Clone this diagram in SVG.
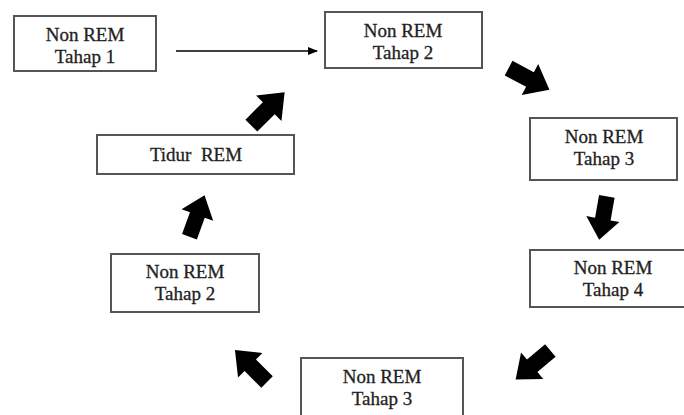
<svg xmlns="http://www.w3.org/2000/svg" width="684" height="415" viewBox="0 0 684 415">
<style>
.box{fill:#fff;stroke:#555;stroke-width:2}
.t{font-family:"Liberation Serif","Times New Roman",serif;font-size:19px;fill:#222;stroke:#222;stroke-width:0.3;text-anchor:middle}
.blk{fill:#000}
</style>
<defs>
<marker id="ah" markerWidth="10" markerHeight="8" refX="9" refY="4" orient="auto" markerUnits="userSpaceOnUse">
<path d="M0,0 L10,4 L0,8 Z" fill="#000"/>
</marker>
<path id="big" d="M-21,-7.5 L1,-7.5 L1,-16 L21,0 L1,16 L1,7.5 L-21,7.5 Z"/>
</defs>
<g id="connectors">
<line x1="176" y1="51" x2="317" y2="51" stroke="#000" stroke-width="1.3" marker-end="url(#ah)"/>
<use href="#big" class="blk" transform="translate(268,109) rotate(-45) scale(1.12)"/>
<use href="#big" class="blk" transform="translate(529,79) rotate(28) scale(1.1)"/>
<use href="#big" class="blk" transform="translate(603,218) rotate(100) scale(1.05)"/>
<use href="#big" class="blk" transform="translate(533,365) rotate(140) scale(1.08)"/>
<use href="#big" class="blk" transform="translate(251,366) rotate(-135) scale(1.08)"/>
<use href="#big" class="blk" transform="translate(197,216) rotate(-70) scale(1.05)"/>
</g>
<g id="n1"><rect class="box" x="14" y="16" width="142" height="55"/><text class="t" x="85" y="40.5">Non REM</text><text class="t" x="85" y="62.5">Tahap 1</text></g>
<g id="n2"><rect class="box" x="325" y="12" width="157" height="56"/><text class="t" x="403" y="36.5">Non REM</text><text class="t" x="403" y="58.5">Tahap 2</text></g>
<g id="n3"><rect class="box" x="530" y="118" width="147" height="62"/><text class="t" x="604" y="142.5">Non REM</text><text class="t" x="604" y="164.5">Tahap 3</text></g>
<g id="n4"><rect class="box" x="530" y="250" width="168" height="57"/><text class="t" x="613" y="273.5">Non REM</text><text class="t" x="613" y="295.5">Tahap 4</text></g>
<g id="n5"><rect class="box" x="301" y="358" width="162" height="70"/><text class="t" x="382" y="382.5">Non REM</text><text class="t" x="382" y="404.5">Tahap 3</text></g>
<g id="n6"><rect class="box" x="111" y="254" width="148" height="58"/><text class="t" x="185" y="277.5">Non REM</text><text class="t" x="185" y="299.5">Tahap 2</text></g>
<g id="n7"><rect class="box" x="97" y="135" width="197" height="39"/><text class="t" x="196" y="161" xml:space="preserve">Tidur  REM</text></g>
</svg>
